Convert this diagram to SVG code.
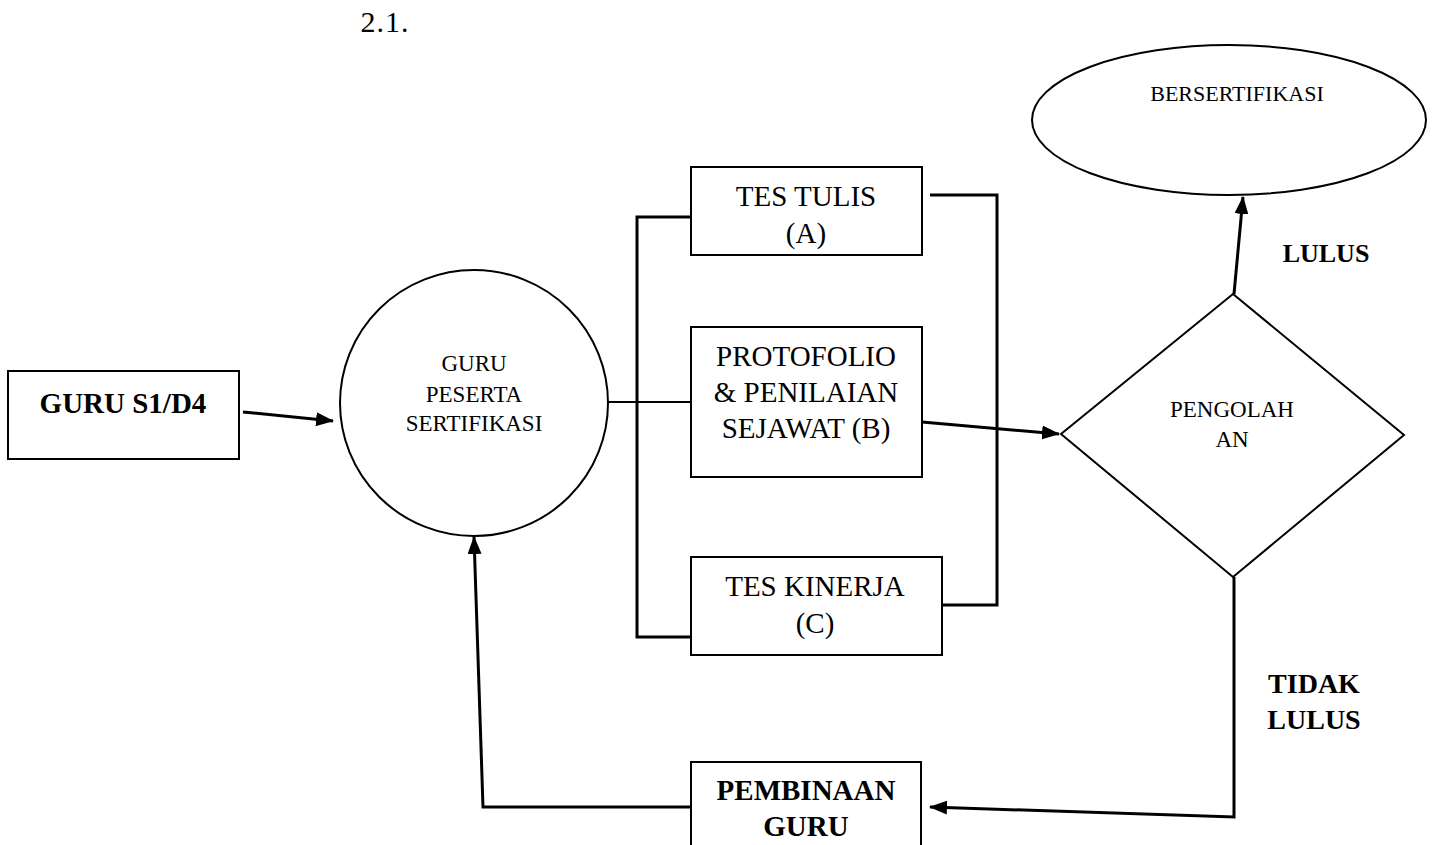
<svg xmlns="http://www.w3.org/2000/svg" width="1433" height="845" viewBox="0 0 1433 845">
<style>
.shape{fill:#fff;stroke:#000;stroke-width:2}
.conn{fill:none;stroke:#000;stroke-width:3;stroke-linejoin:miter}
text{font-family:"Liberation Serif","Times New Roman",serif;fill:#000;text-anchor:middle}
.big{font-size:29px}
.sm{font-size:23px}
.b{font-weight:bold}
</style>
<defs>
<marker id="ah" viewBox="0 0 18 14" markerWidth="18" markerHeight="14" refX="17" refY="7" orient="auto" markerUnits="userSpaceOnUse">
<path d="M0,0 L18,7 L0,14 z" fill="#000"/>
</marker>
</defs>
<rect width="1433" height="845" fill="#fff"/>
<text x="385" y="32" style="font-size:30px;letter-spacing:1px">2.1.</text>

<g id="connectors">
<line class="conn" x1="243" y1="412" x2="333" y2="421" marker-end="url(#ah)"/>
<line class="conn" x1="608" y1="402" x2="691" y2="402" style="stroke-width:2"/>
<polyline class="conn" points="691,217 637,217 637,637 691,637"/>
<polyline class="conn" points="930,195 997,195 997,605 943,605"/>
<line class="conn" x1="922" y1="422" x2="1059" y2="434" marker-end="url(#ah)"/>
<line class="conn" x1="1234" y1="294" x2="1243" y2="197" marker-end="url(#ah)"/>
<polyline class="conn" points="1234,577 1234,817 930,807" marker-end="url(#ah)"/>
<polyline class="conn" points="691,807 483,807 474,537" marker-end="url(#ah)"/>
</g>

<g id="guru-s1d4">
<rect class="shape" x="8" y="371" width="231" height="88"/>
<text class="big b" x="123" y="413">GURU S1/D4</text>
</g>

<g id="guru-peserta">
<ellipse class="shape" cx="474" cy="403" rx="134" ry="133"/>
<text class="sm" x="474" y="371">GURU</text>
<text class="sm" x="474" y="402">PESERTA</text>
<text class="sm" x="474" y="431">SERTIFIKASI</text>
</g>

<g id="tes-tulis">
<rect class="shape" x="691" y="167" width="231" height="88"/>
<text class="big" x="806" y="206">TES TULIS</text>
<text class="big" x="806" y="243">(A)</text>
</g>

<g id="protofolio">
<rect class="shape" x="691" y="327" width="231" height="150"/>
<text class="big" x="806" y="366">PROTOFOLIO</text>
<text class="big" x="806" y="402">&amp; PENILAIAN</text>
<text class="big" x="806" y="438">SEJAWAT (B)</text>
</g>

<g id="tes-kinerja">
<rect class="shape" x="691" y="557" width="251" height="98"/>
<text class="big" x="815" y="596">TES KINERJA</text>
<text class="big" x="815" y="633">(C)</text>
</g>

<g id="pengolahan">
<polygon class="shape" points="1233,294 1404,435 1233,577 1061,434"/>
<text class="sm" x="1232" y="417">PENGOLAH</text>
<text class="sm" x="1232" y="447">AN</text>
</g>

<g id="bersertifikasi">
<ellipse class="shape" cx="1229" cy="120" rx="197" ry="75"/>
<text class="sm" x="1237" y="101" style="font-size:22px">BERSERTIFIKASI</text>
</g>

<g id="pembinaan">
<rect class="shape" x="691" y="762" width="230" height="90"/>
<text class="big b" x="806" y="800">PEMBINAAN</text>
<text class="big b" x="806" y="836">GURU</text>
</g>

<g id="labels">
<text class="b" x="1326" y="262" style="font-size:26px">LULUS</text>
<text class="b" x="1314" y="693" style="font-size:28px">TIDAK</text>
<text class="b" x="1314" y="729" style="font-size:28px">LULUS</text>
</g>
</svg>
